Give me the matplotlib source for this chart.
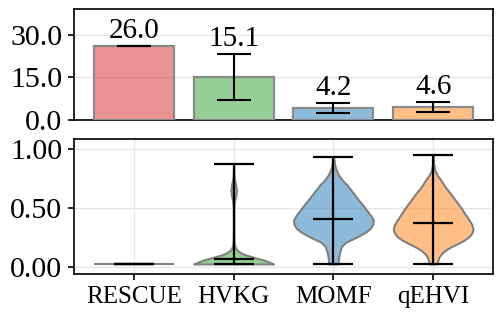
import numpy as np
import matplotlib
matplotlib.use('Agg')
import matplotlib.pyplot as plt

plt.rcParams['font.family'] = ['Liberation Serif', 'DejaVu Serif']
plt.rcParams['font.size'] = 21.5

# 手法名と色
methods = ['RESCUE', 'HVKG', 'MOMF', 'qEHVI']
colors = ['tab:red', 'tab:green', 'tab:blue', 'tab:orange']

# 上段: 棒グラフ (平均値と誤差)
bar_means = [26.0, 15.1, 4.2, 4.6]
bar_errs = [0.0, 8.0, 1.6, 1.8]

# 下段: バイオリン (密度プロファイルと要約統計量)
rescue_coords = [0.028, 0.028]
rescue_vals = [1.0, 1.0]
hvkg_coords = [0.028, 0.045, 0.062, 0.075, 0.09, 0.105, 0.118, 0.14, 0.16, 0.19, 0.23,
               0.35, 0.50, 0.56, 0.60, 0.65, 0.70, 0.75, 0.82, 0.873]
hvkg_vals = [1.0, 0.88, 0.75, 0.6, 0.45, 0.3, 0.2, 0.1, 0.05, 0.02, 0.01,
             0.004, 0.006, 0.02, 0.05, 0.07, 0.05, 0.015, 0.004, 0.0]
momf_coords = [0.028, 0.047, 0.08, 0.118, 0.15, 0.174, 0.20, 0.217, 0.245, 0.273, 0.30,
               0.330, 0.365, 0.40, 0.44, 0.484, 0.53, 0.569, 0.61, 0.653, 0.70,
               0.738, 0.78, 0.822, 0.87, 0.925]
momf_vals = [0.12, 0.12, 0.13, 0.15, 0.18, 0.2, 0.27, 0.34, 0.52, 0.68, 0.82,
             0.93, 0.99, 1.0, 0.93, 0.83, 0.73, 0.63, 0.54, 0.44, 0.33,
             0.22, 0.13, 0.07, 0.03, 0.01]
qehvi_coords = [0.028, 0.034, 0.06, 0.09, 0.115, 0.146, 0.175, 0.203, 0.23, 0.259, 0.29,
                0.321, 0.36, 0.40, 0.45, 0.512, 0.57, 0.625, 0.68, 0.738, 0.78,
                0.822, 0.88, 0.95]
qehvi_vals = [0.1, 0.1, 0.12, 0.15, 0.21, 0.31, 0.46, 0.63, 0.78, 0.9, 0.97,
              1.0, 0.97, 0.9, 0.8, 0.68, 0.55, 0.43, 0.3, 0.19, 0.1,
              0.04, 0.01, 0.0]
vio_medians = [0.028, 0.07, 0.405, 0.377]
vio_mins = [0.028, 0.028, 0.028, 0.028]
vio_maxs = [0.028, 0.873, 0.93, 0.952]

x = np.arange(len(methods))

fig = plt.figure(figsize=(4.98, 3.13), dpi=100)
ax1 = fig.add_axes([0.1486, 0.6166, 0.8414, 0.3546])
ax2 = fig.add_axes([0.1486, 0.1246, 0.8414, 0.4314])

# 上段の棒グラフ
ax1.bar(x, bar_means, width=0.8, color=colors, alpha=0.5, zorder=2)
ax1.bar(x, bar_means, width=0.8, fill=False, edgecolor='#8a8a8a', linewidth=1.6, zorder=3)
ax1.errorbar(x, bar_means, yerr=bar_errs, fmt='none', ecolor='black',
             elinewidth=1.5, capsize=12, capthick=1.5, zorder=4)
for xi, m, e in zip(x, bar_means, bar_errs):
    ax1.annotate(f'{m:.1f}', (xi, m + e), xytext=(0, 1.5), textcoords='offset points',
                 ha='center', va='bottom', fontsize=21)
ax1.set_xlim(-0.6, 3.6)
ax1.set_ylim(0, 39)
ax1.set_yticks([0, 15, 30])
ax1.set_yticklabels(['0.0', '15.0', '30.0'])
ax1.set_xticks([])
ax1.grid(axis='y', color='#e6e6e6', linewidth=1, zorder=0)
ax1.set_axisbelow(True)

# 下段のバイオリン
coords_list = [rescue_coords, hvkg_coords, momf_coords, qehvi_coords]
vals_list = [rescue_vals, hvkg_vals, momf_vals, qehvi_vals]
vpstats = []
for c, v, med, mn, mx in zip(coords_list, vals_list, vio_medians, vio_mins, vio_maxs):
    vpstats.append({'coords': np.array(c), 'vals': np.array(v), 'mean': med,
                    'median': med, 'min': mn, 'max': mx})
parts = ax2.violin(vpstats, positions=x, widths=0.8, showmedians=True)
for body, col in zip(parts['bodies'], colors):
    body.set_alpha(None)
    body.set_facecolor(matplotlib.colors.to_rgba(col, 0.5))
    body.set_edgecolor('#808080')
    body.set_linewidth(1.5)
for key in ['cbars', 'cmins', 'cmaxes', 'cmedians']:
    parts[key].set_color('black')
    parts[key].set_linewidth(1.6)

ax2.set_xlim(-0.6, 3.6)
ax2.set_ylim(-0.057, 1.085)
ax2.set_yticks([0, 0.5, 1.0])
ax2.set_yticklabels(['0.00', '0.50', '1.00'])
ax2.set_xticks(x)
ax2.set_xticklabels(methods, fontsize=18)
ax2.grid(color='#e6e6e6', linewidth=1, zorder=0)
ax2.set_axisbelow(True)

for ax in (ax1, ax2):
    for s in ax.spines.values():
        s.set_linewidth(1.2)
    ax.tick_params(width=1.2, length=4.5)
    ax.tick_params(axis='y', pad=4)
    ax.tick_params(axis='x', pad=4)

fig.savefig('out.png', dpi=100)
